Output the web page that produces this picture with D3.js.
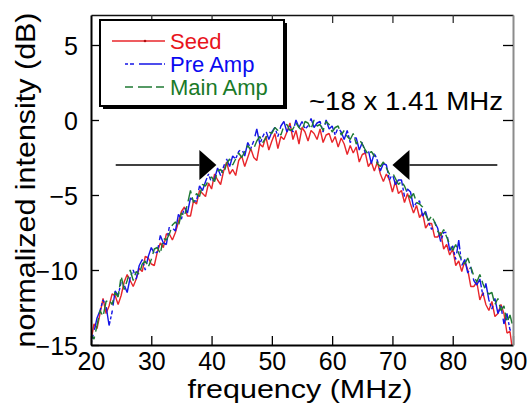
<!DOCTYPE html>
<html>
<head>
<meta charset="utf-8">
<script src="https://cdn.jsdelivr.net/npm/d3@7"></script>
<style>
  html, body { margin: 0; padding: 0; background: #fff; }
  svg { display: block; font-family: "Liberation Sans", Arial, Helvetica, sans-serif; }
</style>
</head>
<body>
<svg id="chart" width="528" height="403"></svg>
<script>
// frequency grid (MHz)
const freq = [
  20,20.5,21,21.5,22,22.5,23,23.5,24,24.5,25,25.5,26,26.5,27,27.5,28,28.5,29,29.5,
  30,30.5,31,31.5,32,32.5,33,33.5,34,34.5,35,35.5,36,36.5,37,37.5,38,38.5,39,39.5,
  40,40.5,41,41.5,42,42.5,43,43.5,44,44.5,45,45.5,46,46.5,47,47.5,48,48.5,49,49.5,
  50,50.5,51,51.5,52,52.5,53,53.5,54,54.5,55,55.5,56,56.5,57,57.5,58,58.5,59,59.5,
  60,60.5,61,61.5,62,62.5,63,63.5,64,64.5,65,65.5,66,66.5,67,67.5,68,68.5,69,69.5,
  70,70.5,71,71.5,72,72.5,73,73.5,74,74.5,75,75.5,76,76.5,77,77.5,78,78.5,79,79.5,
  80,80.5,81,81.5,82,82.5,83,83.5,84,84.5,85,85.5,86,86.5,87,87.5,88,88.5,89,89.5,
  90
];
// normalized intensity (dB)
const seed = [
  -14.7,-13.6,-13.9,-12.9,-11.9,-12.9,-12.4,-11.6,-11.7,-12.3,
  -11.7,-10.8,-10.3,-10.7,-11.1,-10.6,-9.9,-10.1,-9.1,-9.2,
  -9.6,-9.7,-8.8,-8.2,-8.5,-7.6,-7.6,-8.0,-7.5,-6.8,
  -6.1,-5.8,-6.4,-6.4,-5.4,-5.6,-4.7,-4.9,-5.1,-4.2,
  -4.6,-3.6,-4.0,-4.3,-3.4,-2.8,-3.6,-3.3,-3.7,-2.7,
  -2.4,-3.1,-2.5,-1.9,-2.5,-2.7,-1.6,-1.8,-1.1,-2.0,
  -1.4,-0.9,-1.9,-1.1,-1.3,-0.8,-0.2,-1.3,-0.7,-1.6,
  -0.5,-0.8,-1.4,-0.7,-0.9,-1.3,-0.6,-1.5,-1.0,-0.9,
  -1.5,-1.1,-1.8,-1.2,-1.6,-2.3,-1.7,-2.2,-1.8,-2.8,
  -2.3,-2.2,-3.1,-2.8,-3.4,-2.8,-3.6,-4.1,-3.6,-4.0,
  -4.8,-4.1,-4.9,-4.7,-5.5,-4.9,-5.6,-6.2,-5.7,-6.5,
  -6.2,-7.2,-6.9,-6.9,-7.8,-7.8,-7.5,-8.6,-8.3,-9.0,
  -8.6,-9.7,-9.4,-10.1,-9.4,-10.0,-11.1,-11.1,-10.8,-12.0,
  -11.5,-12.3,-12.7,-12.1,-13.1,-12.9,-12.3,-12.9,-14.2,-14.1,
  -15.6
];
const preAmp = [
  -14.9,-14.1,-13.2,-12.7,-12.0,-12.4,-13.7,-12.8,-11.4,-11.7,
  -10.8,-11.0,-11.5,-10.5,-10.0,-10.6,-9.7,-9.3,-10.0,-9.1,
  -8.5,-8.9,-8.8,-7.7,-8.2,-8.3,-7.1,-7.2,-7.4,-6.3,
  -6.6,-5.8,-6.2,-5.2,-5.4,-5.4,-4.4,-4.7,-4.1,-3.6,
  -4.2,-3.9,-3.2,-3.7,-3.1,-2.6,-3.1,-2.4,-2.6,-2.1,
  -1.9,-2.4,-1.5,-1.9,-1.4,-0.6,-1.6,-1.1,-0.7,-1.3,
  -0.8,-0.5,-1.1,-0.4,-0.1,-0.8,-0.4,-0.8,0.0,-0.5,
  -0.1,-0.6,-0.4,0.1,-0.5,-0.2,-0.1,-0.8,0.0,-0.6,
  -0.4,-1.0,-0.5,-0.8,-1.3,-0.7,-1.5,-1.2,-1.2,-2.0,
  -1.5,-2.2,-2.0,-2.9,-2.2,-2.7,-3.4,-2.9,-3.0,-4.0,
  -3.6,-4.3,-4.0,-4.0,-5.1,-4.6,-4.8,-5.8,-5.5,-5.4,
  -6.4,-6.1,-6.8,-7.3,-6.8,-7.2,-8.1,-7.5,-7.5,-8.7,
  -8.4,-9.3,-8.0,-9.7,-9.3,-10.2,-9.8,-10.7,-11.0,-10.6,
  -11.7,-10.9,-12.0,-12.6,-11.9,-12.9,-12.4,-13.6,-12.9,-14.0,
  -14.0
];
const mainAmp = [
  -14.3,-14.6,-13.7,-12.7,-13.1,-12.1,-12.0,-12.3,-11.5,-11.8,
  -10.4,-11.3,-10.7,-10.0,-10.7,-10.1,-10.3,-9.6,-9.4,-9.8,
  -9.3,-8.6,-8.5,-8.9,-7.9,-8.0,-7.6,-7.0,-6.8,-7.1,
  -6.2,-6.4,-5.6,-4.7,-5.5,-4.9,-5.1,-4.3,-4.4,-4.0,
  -3.8,-4.1,-3.4,-3.3,-3.6,-2.9,-2.6,-3.0,-2.6,-2.2,
  -2.5,-2.1,-1.7,-2.0,-1.9,-1.4,-1.1,-1.5,-1.2,-0.8,
  -0.9,-0.5,-0.7,-1.0,-0.4,-0.3,-0.7,-0.6,-0.2,-0.5,
  -0.7,-0.1,-0.2,-0.6,0.0,-0.4,-0.3,-0.7,-0.1,-0.3,
  -0.8,-0.5,-0.4,-1.0,-0.7,-1.1,-1.3,-0.9,-1.6,-1.3,
  -1.6,-2.0,-2.3,-2.1,-2.4,-2.9,-3.1,-2.8,-3.2,-3.6,
  -3.5,-3.9,-4.3,-4.1,-4.4,-4.9,-5.2,-4.9,-5.5,-5.6,
  -5.8,-6.3,-6.7,-6.4,-6.8,-7.4,-7.7,-7.3,-7.8,-8.3,
  -8.7,-8.3,-8.9,-9.4,-9.6,-9.2,-9.8,-10.4,-10.8,-10.3,
  -10.9,-11.4,-11.6,-11.5,-12.3,-11.9,-12.7,-12.4,-13.5,-13.0,
  -13.8
];
const xTicks = [20,30,40,50,60,70,80,90];
const yTicks = [-15,-10,-5,0,5];
const seriesNames = ['Seed','Pre Amp','Main Amp'];
// bandwidth marker: arrows at -3 dB pointing at 40.8 and 70 MHz
const arrowLevel = -3;
const arrowFrom = [24.1, 87.4];
const arrowTo = [40.8, 70.0];
const annotation = '~18 x 1.41 MHz';

const svg = d3.select('#chart');
const font = '"Liberation Sans", Arial, Helvetica, sans-serif';
const colors = ['#e8262b','#1515e6','#1f7a33'];
const textColors = ['#e8141c','#0a0af0','#1a7a28'];
const dashes = [null,'3,2,4,5,23,2','8,5,14,4'];

const x = d3.scaleLinear().domain([20,90]).range([91,513]);
const y = d3.scaleLinear().domain([-15,7]).range([345,15]);

svg.append('defs').append('clipPath').attr('id','plotClip')
  .append('rect').attr('x',91).attr('y',15).attr('width',422).attr('height',330);

// data lines
const line = d3.line().x((d,i)=>x(freq[i])).y(d=>y(d));
const series = [seed, preAmp, mainAmp];
const lines = svg.append('g').attr('clip-path','url(#plotClip)');
series.forEach((s,k)=>{
  lines.append('path').datum(s)
    .attr('d',line)
    .attr('fill','none')
    .attr('stroke',colors[k])
    .attr('stroke-width',1.4)
    .attr('stroke-linejoin','bevel')
    .attr('stroke-dasharray',dashes[k]);
});

// axes with inward ticks on all four sides
const axB = svg.append('g').attr('transform','translate(0,345)')
  .call(d3.axisBottom(x).tickValues(xTicks).tickSize(-9).tickSizeOuter(0).tickPadding(7).tickFormat(d3.format('d')));
const axT = svg.append('g').attr('transform','translate(0,15)')
  .call(d3.axisTop(x).tickValues(xTicks.slice(1,-1)).tickSize(-8).tickSizeOuter(0).tickFormat(''));
const axL = svg.append('g').attr('transform','translate(91,0)')
  .call(d3.axisLeft(y).tickValues(yTicks).tickSize(-8).tickSizeOuter(0).tickPadding(13).tickFormat(d3.format('d')));
const axR = svg.append('g').attr('transform','translate(513,0)')
  .call(d3.axisRight(y).tickValues(yTicks.slice(1)).tickSize(-10).tickSizeOuter(0).tickFormat(''));

[axB,axL].forEach(a=>{
  a.select('.domain').attr('stroke','#000').attr('stroke-width',2);
  a.selectAll('.tick line').attr('stroke','#000').attr('stroke-width',1.3);
  a.selectAll('.tick text').attr('fill','#000').style('font-size','25px').style('font-family',font);
});
axT.select('.domain').attr('stroke','#111').attr('stroke-width',1.5);
axT.selectAll('.tick line').attr('stroke','#333').attr('stroke-width',1.3);
axR.select('.domain').attr('stroke','#8c8c8c').attr('stroke-width',2);
axR.selectAll('.tick line').attr('stroke','#000').attr('stroke-width',1.3);
axL.selectAll('.tick text').attr('dy','0.36em');

// arrows
const arrows = svg.append('g');
arrowFrom.forEach((f,i)=>{
  const t = arrowTo[i];
  const dir = t > f ? 1 : -1;
  const base = x(t) - dir*17;
  arrows.append('line')
    .attr('x1',x(f)).attr('x2',base)
    .attr('y1',y(arrowLevel)).attr('y2',y(arrowLevel))
    .attr('stroke','#000').attr('stroke-width',1.3);
  arrows.append('path')
    .attr('d',`M${x(t)},${y(arrowLevel)}L${base},${y(arrowLevel)-15}L${base},${y(arrowLevel)+15}Z`)
    .attr('fill','#000');
});

// annotation
svg.append('text')
  .attr('x',309).attr('y',110)
  .attr('textLength',194).attr('lengthAdjust','spacingAndGlyphs')
  .style('font-size','26px').style('font-family',font).attr('fill','#000')
  .text(annotation);

// legend box with drop shadow
const lg = svg.append('g');
lg.append('rect').attr('x',103).attr('y',23).attr('width',184).attr('height',86).attr('fill','#000');
lg.append('rect').attr('x',100).attr('y',20).attr('width',184).attr('height',86)
  .attr('fill','#fff').attr('stroke','#000').attr('stroke-width',2);
const lgRows = [41,64,87];
const lgStart = [112,125,125];
seriesNames.forEach((n,k)=>{
  lg.append('line')
    .attr('x1',lgStart[k]).attr('x2',165)
    .attr('y1',lgRows[k]).attr('y2',lgRows[k])
    .attr('stroke',colors[k]).attr('stroke-width',1.5)
    .attr('stroke-dasharray',dashes[k]);
  lg.append('text')
    .attr('x',170).attr('y',lgRows[k]+7.5)
    .style('font-size','22px').style('font-family',font)
    .attr('fill',textColors[k])
    .text(n);
});
lg.append('circle').attr('cx',145).attr('cy',41).attr('r',1.3).attr('fill','#b01010');

// axis titles
svg.append('text')
  .attr('x',300).attr('y',398).attr('text-anchor','middle')
  .attr('textLength',225).attr('lengthAdjust','spacingAndGlyphs')
  .style('font-size','26px').style('font-family',font).attr('fill','#000')
  .text('frequency (MHz)');
svg.append('text')
  .attr('transform','translate(35,180) rotate(-90)')
  .attr('text-anchor','middle')
  .attr('textLength',335).attr('lengthAdjust','spacingAndGlyphs')
  .style('font-size','28px').style('font-family',font).attr('fill','#000')
  .text('normalized intensity (dB)');
</script>
</body>
</html>
